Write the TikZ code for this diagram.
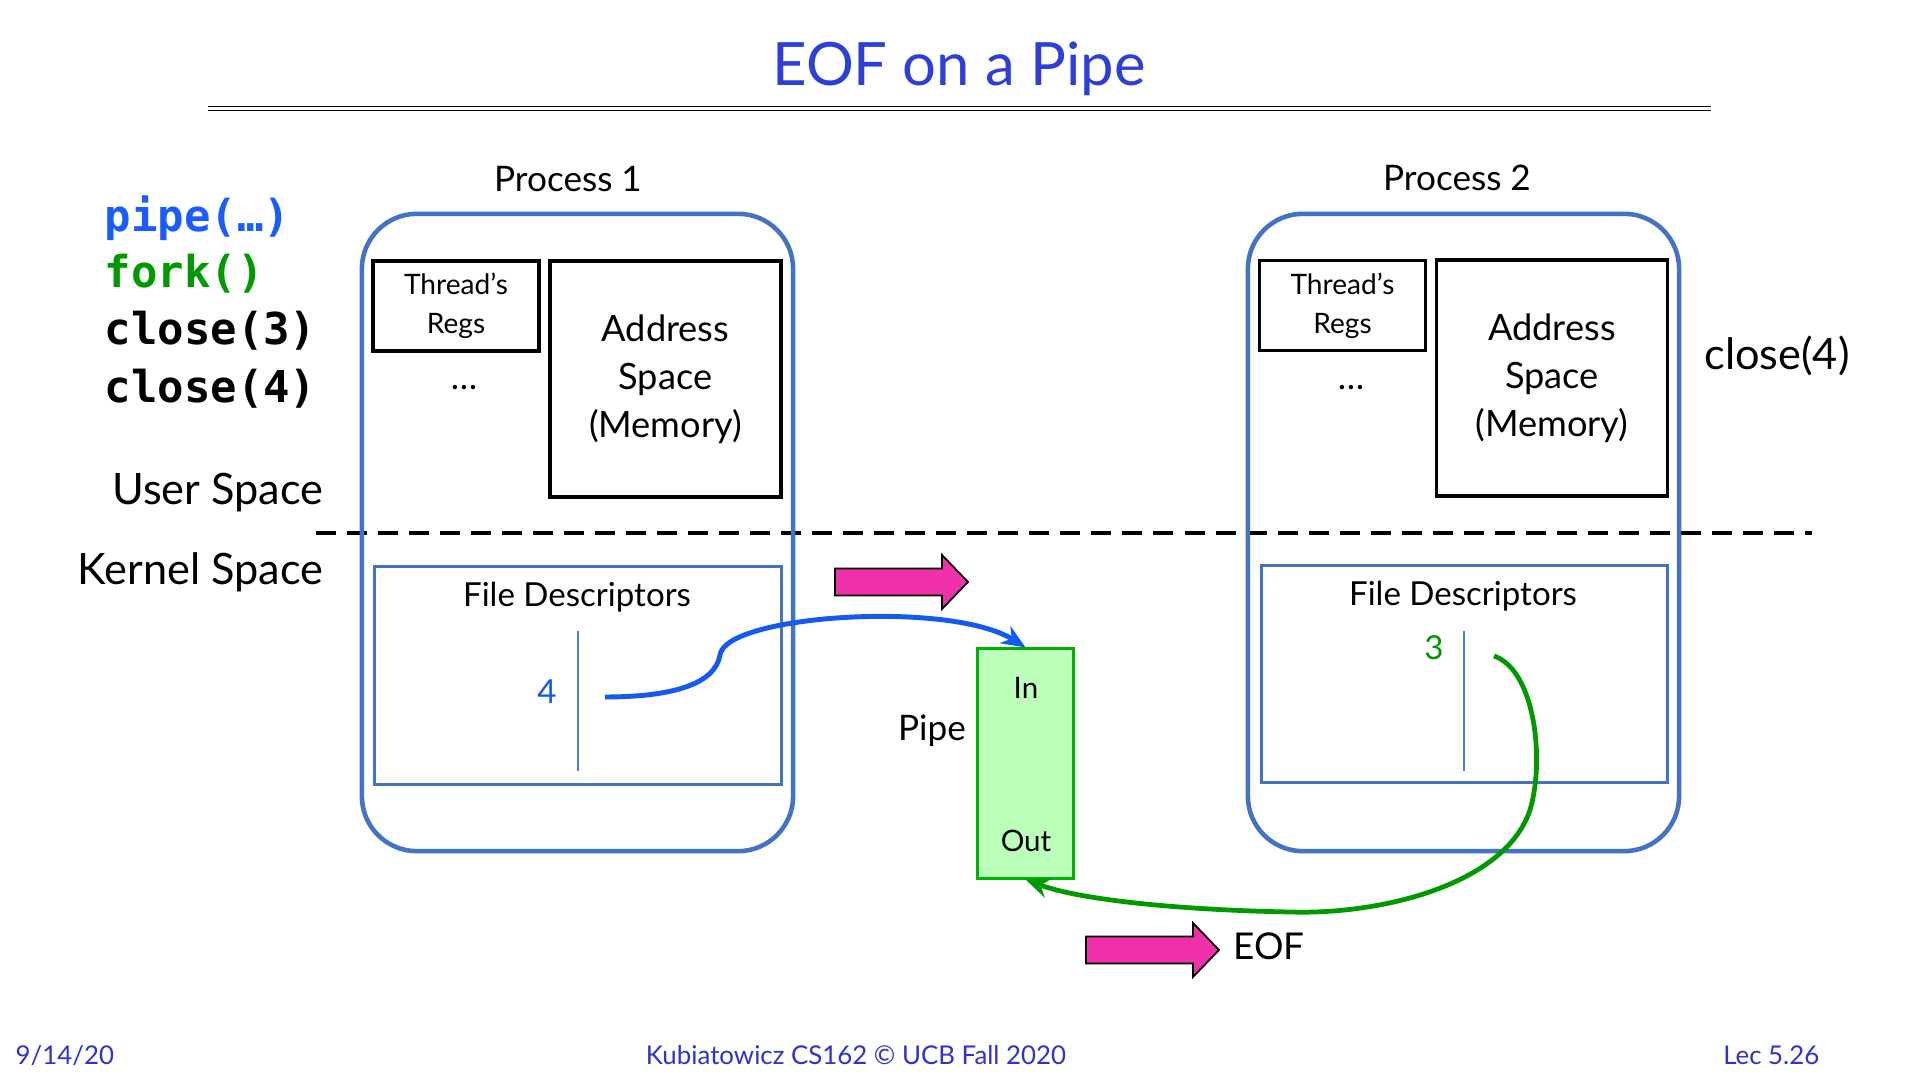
\documentclass[tikz,border=0pt]{standalone}
\usepackage{fontspec}
\setmainfont{Lato}
\newfontfamily\codefont{DejaVu Sans Mono}
\usetikzlibrary{arrows.meta,positioning}

\definecolor{titleblue}{RGB}{45,62,218}
\definecolor{procblue}{RGB}{68,114,196}
\definecolor{codeblue}{RGB}{26,92,255}
\definecolor{codegreen}{RGB}{0,153,0}
\definecolor{pipefill}{RGB}{187,255,187}
\definecolor{pipeedge}{RGB}{0,178,0}
\definecolor{pinkfill}{RGB}{240,50,170}
\definecolor{footblue}{RGB}{50,50,204}
\definecolor{fdline}{RGB}{80,125,225}
\definecolor{linkblue}{RGB}{20,90,240}

\begin{document}
\begin{tikzpicture}[
            x = 0.01cm, y = -0.01cm, % one unit per pixel, y runs down
            > = {Stealth[length=0.24cm, width=0.2cm]}, % arrow head style
            proc/.style = {draw=procblue, line width=1.3pt, rounded corners=0.55cm,
                minimum width=4.31cm, minimum height=6.37cm},
            regsbox/.style = {draw=black, line width=0.95pt, minimum width=1.66cm,
                minimum height=0.9cm, align=center, inner sep=0pt,
                font=\fontsize{8}{11.1}\selectfont},
            addrbox/.style = {draw=black, line width=0.95pt, minimum width=2.31cm,
                minimum height=2.36cm, align=center, inner sep=0pt,
                font=\fontsize{10.3}{13.7}\selectfont},
            fdbox/.style = {draw=procblue, line width=0.85pt, minimum width=4.06cm,
                minimum height=2.17cm},
            pipebox/.style = {draw=pipeedge, fill=pipefill, line width=0.85pt,
                minimum width=0.95cm, minimum height=2.29cm},
            small/.style = {font=\fontsize{8.4}{10}\selectfont},
            mid/.style = {font=\fontsize{9.4}{11}\selectfont},
            lbl/.style = {font=\fontsize{10}{12}\selectfont},
            big/.style = {font=\fontsize{12.3}{14}\selectfont},
            code/.style = {anchor=west, inner sep=0pt, font=\codefont\bfseries\fontsize{12.5}{14}\selectfont},
            foot/.style = {text=footblue, anchor=base, inner sep=0pt, font=\fontsize{7.35}{9}\selectfont},
            fdbar/.style = {draw=fdline, line width=0.75pt},
            bluelink/.style = {draw=linkblue, line width=1.4pt, ->},
            greenlink/.style = {draw=codegreen, line width=1.35pt, ->},
            pinkarrow/.pic = {
                \draw[fill=pinkfill, line width=0.5pt]
                    (0,-13.5) -- (107,-13.5) -- (107,-27) -- (133,0)
                    -- (107,27) -- (107,13.5) -- (0,13.5) -- cycle;
            }
        ]
\fill[white] (0,0) rectangle (1920,1080);

% title
\node[anchor=base, text=titleblue, font=\fontsize{17}{20}\selectfont] (title) at (959,86) {EOF on a Pipe};
\draw[line width=0.45pt] (208,106.5) -- (1711,106.5);
\draw[line width=0.45pt] (208,110.5) -- (1711,110.5);

% system calls
\node[code, text=codeblue] (pipecall) at (104,218) {pipe(…)};
\node[code, text=codegreen] (forkcall) at (104,274) {fork()};
\node[code] (close3) at (104,331) {close(3)};
\node[code] (close4) at (104,389) {close(4)};

% user / kernel split
\node[big, anchor=east, inner sep=0pt] (user) at (324,493) {User Space};
\node[big, anchor=east, inner sep=0pt] (kernel) at (324,572) {Kernel Space};
\draw[line width=1.2pt, dash pattern=on 0.2cm off 0.11cm] (316,533) -- (1812,533);

% process 1
\node[lbl, anchor=base] (p1label) at (568,192) {Process 1};
\node[proc] (proc1) at (577.5,532.5) {};
\node[regsbox] (regs1) at (456,306) {Thread’s\\Regs};
\node[addrbox] (addr1) at (665.5,379) {Address\\Space\\(Memory)};
\node[lbl] (dots1) at (464,388) {…};
\node[fdbox] (fd1) at (578,675.5) {};
\node[mid] (fdtitle1) at (577,597) {File Descriptors};
\draw[fdbar] (578,631) -- (578,771);
\node[mid, text=linkblue] (fdnum4) at (547,692) {4};
\coordinate (fd4) at (605,697);

% process 2
\node[lbl, anchor=base] (p2label) at (1457,191) {Process 2};
\node[proc] (proc2) at (1463.5,532.5) {};
\node[regsbox] (regs2) at (1342.5,305.5) {Thread’s\\Regs};
\node[addrbox] (addr2) at (1552,378) {Address\\Space\\(Memory)};
\node[lbl] (dots2) at (1351,388) {…};
\node[fdbox] (fd2) at (1464.5,674) {};
\node[mid] (fdtitle2) at (1463,596) {File Descriptors};
\draw[fdbar] (1464,631) -- (1464,771);
\node[mid, text=codegreen] (fdnum3) at (1434,648) {3};
\coordinate (fd3) at (1494,656);
\node[big] (close4b) at (1777,356) {close(4)};

% the pipe
\node[pipebox] (pipe) at (1025.5,763.5) {};
\node[small] (pipein) at (1026,688) {In};
\node[small] (pipeout) at (1026,841) {Out};
\node[lbl] (pipelabel) at (932,731) {Pipe};

% links
\draw[bluelink] (fd4) .. controls (670,697) and (715,685) .. (720,655)
    .. controls (725,615) and (950,600) .. (pipe.north);
\draw[greenlink] (fd3) .. controls (1535,670) and (1545,760) .. (1530,810)
    .. controls (1505,885) and (1380,915) .. (1290,912)
    .. controls (1180,910) and (1080,900) .. (pipe.south);

% pink arrows
\pic at (835,582) {pinkarrow};
\pic at (1086,950) {pinkarrow};
\node[lbl, font=\fontsize{10.5}{12}\selectfont] (eof) at (1269,946) {EOF};

% footer
\node[foot, anchor=base west] (date) at (15,1065) {9/14/20};
\node[foot] (course) at (856,1065) {Kubiatowicz CS162 © UCB Fall 2020};
\node[foot, anchor=base east] (lec) at (1820,1065) {Lec 5.26};
\end{tikzpicture}
\end{document}
